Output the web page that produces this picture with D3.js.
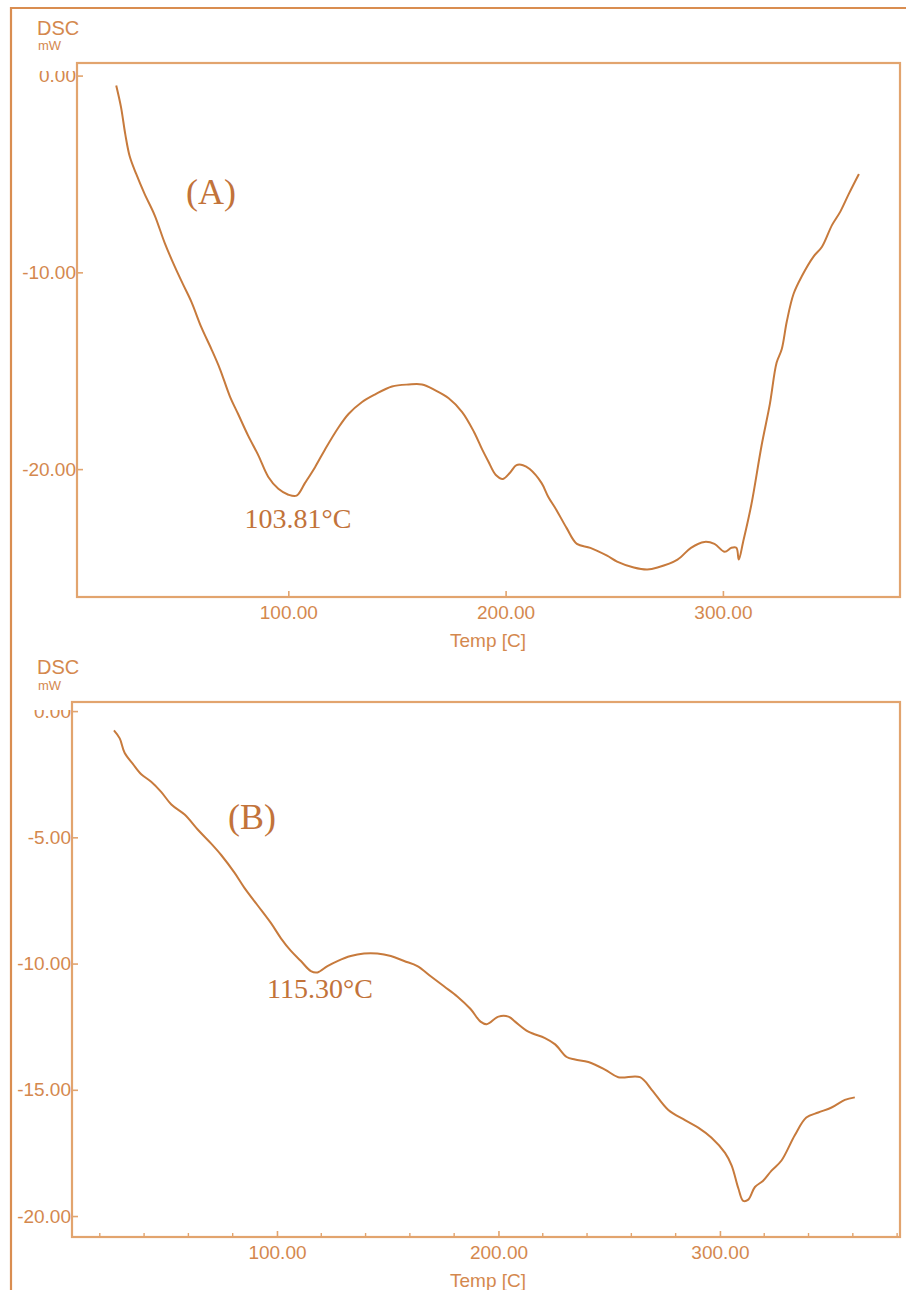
<!DOCTYPE html>
<html>
<head>
<meta charset="utf-8">
<script src="https://cdn.jsdelivr.net/npm/d3@7/dist/d3.min.js"></script>
<style>
  html, body { margin: 0; padding: 0; background: #ffffff; }
  svg { display: block; }
  .tick-label { font-family: "Liberation Sans Narrow", "Liberation Sans", Arial, sans-serif; }
</style>
</head>
<body>
<svg id="chart" width="906" height="1290"></svg>
<script>
// DSC thermograms: heat flow (mW) against temperature (°C)
const tempA = [20.8, 23.0, 25.0, 27.0, 30.0, 33.8, 38.5, 43.1, 47.7, 51.5, 55.4, 60.0, 64.6, 68.5, 73.1, 76.9, 81.5, 86.2, 90.8, 95.4, 100.0, 103.81, 107.7, 112.3, 116.9, 123.0, 127.7, 133.8, 140.0, 147.7, 155.4, 161.5, 167.7, 173.8, 180.0, 185.4, 189.2, 192.0, 195.5, 198.8, 201.9, 205.0, 208.0, 211.1, 216.5, 219.6, 223.5, 228.1, 232.8, 239.0, 246.7, 251.3, 259.0, 265.2, 269.9, 279.1, 285.3, 291.5, 296.1, 300.8, 303.9, 306.2, 307.3, 309.3, 313.1, 317.8, 321.6, 324.7, 327.1, 329.4, 332.5, 336.3, 341.7, 345.6, 350.2, 354.1, 358.0, 362.6];
const dscA  = [-0.5, -1.6, -3.0, -4.1, -5.0, -6.0, -7.1, -8.5, -9.7, -10.6, -11.5, -12.8, -13.9, -14.9, -16.3, -17.2, -18.3, -19.3, -20.4, -21.0, -21.3, -21.35, -20.7, -19.9, -19.0, -17.9, -17.2, -16.6, -16.2, -15.8, -15.7, -15.7, -16.0, -16.4, -17.1, -18.1, -19.0, -19.6, -20.3, -20.5, -20.2, -19.8, -19.8, -20.0, -20.7, -21.4, -22.1, -23.0, -23.8, -24.0, -24.4, -24.7, -25.0, -25.1, -25.0, -24.6, -24.0, -23.7, -23.8, -24.2, -24.0, -24.0, -24.6, -23.7, -21.8, -18.8, -16.7, -14.6, -13.9, -12.5, -11.1, -10.2, -9.2, -8.7, -7.6, -6.9, -6.0, -5.0];

const tempB = [26.4, 29.0, 31.2, 35.0, 38.7, 43.2, 47.7, 52.3, 58.3, 64.3, 70.3, 74.8, 80.8, 85.3, 91.3, 97.3, 101.8, 106.3, 110.8, 115.3, 118.3, 122.8, 127.3, 133.3, 139.3, 145.3, 151.4, 157.4, 163.4, 169.4, 175.4, 181.4, 187.4, 191.9, 194.7, 200.0, 204.5, 207.5, 213.5, 221.0, 225.6, 230.8, 234.6, 240.6, 248.1, 254.1, 263.9, 269.2, 276.7, 284.2, 290.2, 296.2, 302.3, 305.3, 308.3, 310.5, 312.8, 315.8, 319.5, 323.3, 327.8, 333.8, 339.0, 344.4, 350.4, 356.4, 360.9];
const dscB  = [-0.76, -1.08, -1.65, -2.1, -2.5, -2.8, -3.2, -3.7, -4.1, -4.7, -5.25, -5.7, -6.4, -7.0, -7.7, -8.4, -9.0, -9.5, -9.9, -10.3, -10.35, -10.1, -9.9, -9.7, -9.6, -9.6, -9.7, -9.9, -10.1, -10.5, -10.9, -11.3, -11.8, -12.3, -12.4, -12.1, -12.1, -12.3, -12.7, -12.95, -13.2, -13.7, -13.8, -13.9, -14.2, -14.5, -14.5, -15.0, -15.8, -16.2, -16.5, -16.9, -17.5, -18.0, -18.9, -19.4, -19.35, -18.85, -18.6, -18.2, -17.8, -16.8, -16.1, -15.9, -15.7, -15.4, -15.3];

const xTickValues  = [100, 200, 300];
const xMinorValues = [20, 40, 60, 80, 100, 120, 140, 160, 180, 200, 220, 240, 260, 280, 300, 320, 340, 360, 380];
const yTicksA = [0, -10, -20];
const yTicksB = [0, -5, -10, -15, -20];
const panelLabels = ["(A)", "(B)"];
const peakLabels = ["103.81°C", "115.30°C"];
const axisTitle = "Temp [C]";
const yTitle = "DSC";
const yUnit = "mW";

const COL_TEXT  = "#d4884e";
const COL_FRAME = "#d98d50";
const COL_BOX   = "#e2a46e";
const COL_LINE  = "#c77a3c";
const COL_ANNOT = "#c2733a";

// two decimals with a plain hyphen for negatives
const fmt2 = d3.formatLocale({decimal: ".", thousands: ",", grouping: [3], currency: ["", ""], minus: "-"}).format(".2f");

const svg = d3.select("#chart");

// outer frame (top and left edges)
svg.append("path")
  .attr("d", "M11,1290 L11,8 L906,8")
  .attr("fill", "none")
  .attr("stroke", COL_FRAME)
  .attr("stroke-width", 2.2);

const panels = [
  {
    temp: tempA, dsc: dscA,
    box: {x0: 77, x1: 900, y0: 63, y1: 597},
    xDomain: [2.75, 381.5], yDomain: [0.64, -26.5],
    yTicks: yTicksA, minor: false,
    label: panelLabels[0], labelPos: [211, 192],
    peak: peakLabels[0], peakPos: [298, 518],
    titleY: 27, unitY: 46
  },
  {
    temp: tempB, dsc: dscB,
    box: {x0: 72, x1: 900, y0: 702, y1: 1237},
    xDomain: [7.45, 381.3], yDomain: [0.36, -20.83],
    yTicks: yTicksB, minor: true,
    label: panelLabels[1], labelPos: [252, 817],
    peak: peakLabels[1], peakPos: [320, 988],
    titleY: 666, unitY: 686
  }
];

panels.forEach((p, i) => {
  const g = svg.append("g");
  const x = d3.scaleLinear().domain(p.xDomain).range([p.box.x0, p.box.x1]);
  const y = d3.scaleLinear().domain(p.yDomain).range([p.box.y0, p.box.y1]);

  // clip for the y labels: the top label is partly cut off at the frame
  const clipId = "ylab-clip-" + i;
  svg.append("clipPath").attr("id", clipId)
    .attr("clipPathUnits", "userSpaceOnUse")
    .append("rect")
    .attr("x", -200).attr("y", p.box.y0 + 8)
    .attr("width", 400).attr("height", p.box.y1 - p.box.y0);

  // y axis (ticks pointing inward)
  const yAxis = d3.axisLeft(y).tickValues(p.yTicks).tickSize(-6).tickPadding(0).tickFormat(fmt2);
  const gy = g.append("g")
    .attr("transform", `translate(${p.box.x0},0)`)
    .call(yAxis);
  gy.select(".domain").remove();
  gy.selectAll(".tick line").attr("stroke", COL_BOX).attr("stroke-width", 1.6);
  gy.selectAll(".tick text")
    .attr("class", "tick-label")
    .attr("fill", COL_TEXT)
    .attr("font-size", 19)
    .attr("x", -1);
  const labelsY = gy.append("g").attr("clip-path", `url(#${clipId})`);
  gy.selectAll(".tick text").each(function () {
    const tr = this.parentNode.getAttribute("transform");
    const t = d3.select(this).remove();
    labelsY.append(() => t.node()).attr("transform", tr);
  });
  gy.attr("font-family", null).attr("font-size", null);

  // x axis major ticks
  const xAxis = d3.axisBottom(x).tickValues(xTickValues).tickSize(-6).tickPadding(0).tickFormat(fmt2);
  const gx = g.append("g")
    .attr("transform", `translate(0,${p.box.y1})`)
    .call(xAxis);
  gx.select(".domain").remove();
  gx.selectAll(".tick line").attr("stroke", COL_BOX).attr("stroke-width", 1.6);
  gx.selectAll(".tick text")
    .attr("class", "tick-label")
    .attr("fill", COL_TEXT)
    .attr("font-size", 19)
    .attr("dy", null)
    .attr("y", 22);
  gx.attr("font-family", null).attr("font-size", null);

  // minor x ticks
  if (p.minor) {
    const minor = xMinorValues.filter(v => v > p.xDomain[0] && v < p.xDomain[1] && !xTickValues.includes(v));
    g.selectAll(".minor-tick").data(minor).join("line")
      .attr("x1", d => x(d)).attr("x2", d => x(d))
      .attr("y1", p.box.y1).attr("y2", p.box.y1 - 4)
      .attr("stroke", COL_BOX).attr("stroke-width", 1.4);
  }

  // plot frame
  g.append("rect")
    .attr("x", p.box.x0).attr("y", p.box.y0)
    .attr("width", p.box.x1 - p.box.x0).attr("height", p.box.y1 - p.box.y0)
    .attr("fill", "none")
    .attr("stroke", COL_BOX)
    .attr("stroke-width", 2.2);

  // axis titles
  g.append("text")
    .attr("class", "tick-label")
    .attr("x", 488).attr("y", p.box.y1 + 50)
    .attr("text-anchor", "middle")
    .attr("fill", COL_TEXT)
    .attr("font-size", 19)
    .text(axisTitle);

  g.append("text")
    .attr("class", "tick-label")
    .attr("x", 37).attr("y", p.titleY + 8)
    .attr("fill", COL_TEXT)
    .attr("font-size", 20)
    .text(yTitle);

  g.append("text")
    .attr("class", "tick-label")
    .attr("x", 38).attr("y", p.unitY + 4)
    .attr("fill", COL_TEXT)
    .attr("font-size", 13)
    .text(yUnit);

  // DSC curve
  const pts = p.temp.map((t, k) => [t, p.dsc[k]]);
  const line = d3.line().x(d => x(d[0])).y(d => y(d[1])).curve(d3.curveCatmullRom.alpha(0.5));
  g.append("path")
    .datum(pts)
    .attr("d", line)
    .attr("fill", "none")
    .attr("stroke", COL_LINE)
    .attr("stroke-width", 2)
    .attr("stroke-linejoin", "round");

  // annotations
  g.append("text")
    .attr("x", p.labelPos[0]).attr("y", p.labelPos[1])
    .attr("text-anchor", "middle")
    .attr("dominant-baseline", "central")
    .attr("font-family", "'Liberation Serif', 'Times New Roman', serif")
    .attr("font-size", 36)
    .attr("fill", COL_ANNOT)
    .text(p.label);

  g.append("text")
    .attr("x", p.peakPos[0]).attr("y", p.peakPos[1])
    .attr("text-anchor", "middle")
    .attr("dominant-baseline", "central")
    .attr("font-family", "'Liberation Serif', 'Times New Roman', serif")
    .attr("font-size", 28)
    .attr("fill", COL_ANNOT)
    .text(p.peak);
});
</script>
</body>
</html>
